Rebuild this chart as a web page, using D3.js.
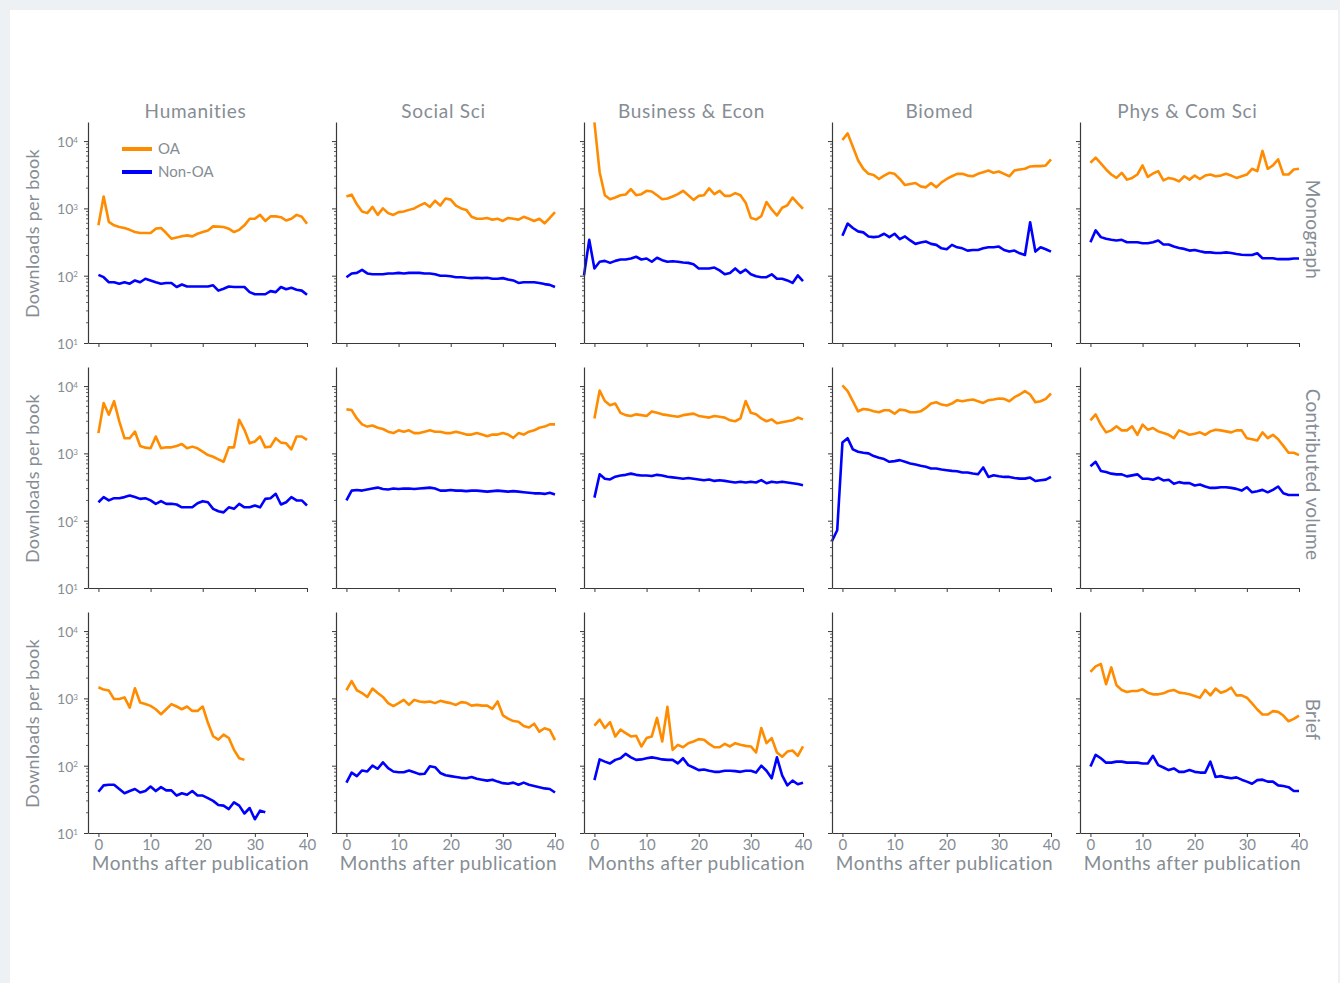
<!DOCTYPE html>
<html>
<head>
<meta charset="utf-8">
<script src="https://cdn.jsdelivr.net/npm/d3@7/dist/d3.min.js"></script>
<style>
  html, body { margin: 0; padding: 0; background: #edf1f4; }
  svg { display: block; }
</style>
</head>
<body>
<svg id="chart" width="1340" height="983"></svg>
<script>
// Column (discipline) and row (book type) labels
const disciplines = ["Humanities", "Social Sci", "Business & Econ", "Biomed", "Phys & Com Sci"];
const bookTypes = ["Monograph", "Contributed volume", "Brief"];
const seriesNames = ["OA", "Non-OA"];
const yTickValues = [10, 100, 1000, 10000];
const xTickValues = [0, 10, 20, 30, 40];

// Monthly downloads per book, month 0 onwards unless a start month is given
const humMonoOA = [560,1500,630,560,530,510,480,445,430,430,430,500,510,430,354,370,385,397,384,420,445,470,540,535,530,500,445,480,560,700,700,800,650,760,760,740,660,700,800,750,590];
const humMonoNon = [103,95,80,80,76,80,76,85,80,90,85,80,76,78,78,68,74,69,69,69,69,69,72,60,64,69,68,68,68,57,53,53,53,59,57,68,63,66,62,60,52];
const socMonoOA = [1500,1600,1150,900,850,1050,800,1000,850,800,880,900,950,1000,1100,1200,1050,1300,1100,1400,1350,1100,1000,950,750,700,700,720,680,700,650,720,700,680,750,700,650,700,600,720,880];
const socMonoNon = [95,108,110,122,108,105,105,105,108,108,110,108,110,110,110,108,108,105,100,100,98,95,95,93,92,93,92,93,90,90,92,88,85,78,80,80,80,78,75,73,68];
const bizMonoOA = [19000,3450,1570,1367,1450,1570,1607,1930,1570,1625,1825,1782,1570,1367,1400,1500,1625,1825,1570,1336,1535,1570,1980,1625,1825,1535,1535,1683,1570,1217,723,682,766,1245,966,784,1023,1110,1448,1190,988];
const bizMonoNon = [101,341,128,161,166,155,166,174,174,180,191,174,180,161,185,170,161,164,161,157,155,148,128,128,128,132,120,105,110,128,110,123,105,98,95,95,105,90,90,85,78,101,83];
const bioMonoOA = [10350,13000,8220,5180,3875,3260,3140,2735,3070,3375,3260,2735,2222,2300,2384,2122,2052,2384,2052,2438,2735,3000,3260,3260,3070,3000,3260,3450,3655,3375,3530,3260,3000,3655,3785,3875,4200,4245,4245,4345,5355];
const bioMonoNon = [392,594,511,455,440,383,374,383,420,374,420,349,383,334,297,311,322,297,287,255,247,287,264,255,236,241,241,255,264,264,271,241,228,236,215,203,622,228,264,247,228];
const phyMonoOA = [4765,5670,4655,3785,3185,2835,3375,2673,2835,3185,4345,2930,3295,3570,2612,2835,2735,2523,3000,2673,3070,2735,3070,3185,3000,3070,3260,3070,2835,3000,3185,3875,3570,7145,3875,4345,5355,3185,3185,3785,3875];
const phyMonoNon = [314,471,374,353,341,334,341,314,314,314,304,304,314,334,290,290,271,258,250,236,241,230,222,222,217,217,222,217,210,205,203,203,215,182,182,182,176,176,176,180,180];

const humCvOA = [2000,5600,3760,5960,2985,1680,1680,2110,1290,1216,1190,1780,1190,1230,1230,1290,1380,1190,1260,1190,1060,944,891,813,750,1230,1230,3160,2240,1410,1500,1780,1230,1260,1680,1445,1410,1150,1780,1780,1585];
const humCvNon = [188,224,200,216,216,224,237,224,211,216,200,178,195,178,178,174,158,158,158,182,195,188,150,138,133,158,150,178,158,158,168,158,211,216,251,174,188,224,200,200,168];
const socCvOA = [4500,4400,3300,2700,2500,2600,2400,2300,2100,2000,2200,2100,2200,2000,2000,2100,2200,2100,2100,2000,2000,2100,2000,1900,1900,2000,1900,1800,1900,1900,2000,1900,1700,2000,1900,2100,2200,2400,2500,2700,2700];
const socCvNon = [200,280,285,280,290,300,310,295,290,300,295,300,300,295,300,305,310,300,280,280,285,280,280,275,280,280,275,270,275,280,275,270,275,270,265,260,255,255,250,260,245];
const bizCvOA = [3300,8600,6000,5200,5500,4000,3700,3600,3800,3700,3600,4200,4000,3800,3700,3600,3500,3700,3800,3900,3600,3500,3400,3600,3500,3400,3100,3000,3300,6000,4000,3800,3300,3000,3200,2800,2900,3000,3100,3400,3200];
const bizCvNon = [220,490,420,410,450,470,480,500,480,470,470,460,480,470,450,440,430,420,430,420,410,400,410,390,400,390,380,370,380,370,380,370,400,360,380,370,380,370,360,350,335];
const bioCvOA = [10230,8414,5960,4217,4570,4467,4217,4074,4365,4365,3890,4467,4365,4074,4074,4217,4732,5495,5754,5309,5129,5495,6166,5957,6166,6310,5957,5623,6166,6310,6531,6457,5957,6839,7499,8414,7499,5754,5957,6457,7762];
const bioCvNon = [50,72,1445,1679,1148,1059,1023,1000,912,861,822,750,767,794,750,708,684,653,631,596,596,575,562,550,543,519,519,501,490,617,447,473,457,447,447,432,422,422,437,389,398,407,447];
const phyCvOA = [3105,3785,2673,2052,2198,2523,2198,2198,2523,1888,2673,2249,2384,2122,2004,1888,1683,2198,2052,1888,1956,2052,1888,2122,2249,2198,2122,2052,2198,2198,1683,1625,1552,2052,1683,1888,1625,1291,1023,1023,944];
const phyCvNon = [644,749,548,530,500,488,488,455,471,488,420,420,405,435,396,405,353,374,361,361,334,345,322,307,307,314,314,307,297,280,314,264,274,287,264,287,322,255,241,241,241];

const humBriefOA = [1464,1351,1305,977,977,1035,731,1416,870,822,774,690,581,690,822,757,690,757,652,652,757,434,274,244,290,258,172,129,122];
const humBriefNon = [41,51,52,52,45,39,42,45,40,42,49,42,48,43,43,36,39,37,42,36,36,33,30,26,25.5,22.7,28.6,25.5,19.5,23.5,16,21.5,20.3];
const socBriefOA = [1320,1800,1320,1200,1050,1400,1200,1050,850,770,850,950,800,950,900,880,900,850,920,880,850,800,880,860,780,800,780,780,700,900,560,500,460,450,390,370,420,320,360,340,240];
const socBriefNon = [56,79,70,85,82,100,90,112,92,82,80,80,85,80,75,76,98,95,78,72,70,68,66,65,68,64,62,60,62,58,55,54,56,52,56,52,50,48,46,45,40];
const bizBriefOA = [394,484,363,442,272,343,305,272,279,193,257,272,513,229,750,172,204,188,216,229,248,243,211,188,188,211,193,216,204,197,193,157,363,216,257,157,136,162,168,140,193];
const bizBriefNon = [61,124,115,108,122,129,150,133,122,124,129,133,129,124,122,122,108,129,102,94,86,88,84,81,81,84,84,83,81,84,84,79,100,84,65,133,72,51,60,53,56];
const phyBriefOA = [2483,2985,3236,1622,2884,1567,1334,1245,1288,1288,1365,1216,1148,1148,1189,1288,1334,1216,1189,1148,1084,1023,1334,1109,1396,1216,1288,1445,1109,1109,1023,841,684,575,575,646,631,556,457,495,556];
const phyBriefNon = [97,145,129,111,111,115,115,111,111,111,108,108,140,102,94,86,91,81,81,86,81,79,79,115,68,70,67,65,67,62,58,54,61,62,58,58,51,50,48,42,42];

// Grid of panels: [row][col] -> {oa, non, oaStart, nonStart}
const panels = [
  [
    {oa: humMonoOA, non: humMonoNon},
    {oa: socMonoOA, non: socMonoNon},
    {oa: bizMonoOA, non: bizMonoNon, nonStart: -2},
    {oa: bioMonoOA, non: bioMonoNon},
    {oa: phyMonoOA, non: phyMonoNon}
  ],
  [
    {oa: humCvOA, non: humCvNon},
    {oa: socCvOA, non: socCvNon},
    {oa: bizCvOA, non: bizCvNon},
    {oa: bioCvOA, non: bioCvNon, nonStart: -2},
    {oa: phyCvOA, non: phyCvNon}
  ],
  [
    {oa: humBriefOA, non: humBriefNon},
    {oa: socBriefOA, non: socBriefNon},
    {oa: bizBriefOA, non: bizBriefNon},
    {oa: [], non: []},
    {oa: phyBriefOA, non: phyBriefNon}
  ]
];

// ---- Layout and style ----
const W = 1340, H = 983;
const colLeft = [88, 336, 584, 832, 1080];
const rowTop = [122, 367, 612];
const pw = 219, ph = 221;
const oaColor = "#ff8c00", nonColor = "#0000ff";
const textColor = "#868d94";
const axisColor = "#3a3a3a";
const fontFam = "Lato, 'Open Sans', sans-serif";

const svg = d3.select("#chart");
svg.append("rect").attr("x", 0).attr("y", 0).attr("width", W).attr("height", H).attr("fill", "#edf1f4");
svg.append("rect").attr("x", 10).attr("y", 10).attr("width", 1328).attr("height", H - 10).attr("fill", "#ffffff");

const x = d3.scaleLinear().domain([-2, 40]).range([0, pw]);
const y = d3.scaleLog().domain([10, 19200]).range([ph, 0]);

const minorTicks = [];
[10, 100, 1000].forEach(d => { for (let k = 2; k <= 9; k++) minorTicks.push(d * k); });

const line = d3.line()
  .x(d => x(d.m))
  .y(d => y(d.v));

bookTypes.forEach((bt, r) => {
  disciplines.forEach((disc, c) => {
    const g = svg.append("g").attr("transform", `translate(${colLeft[c]},${rowTop[r]})`);
    const p = panels[r][c];

    // series lines
    const toPts = (arr, start) => arr.map((v, i) => ({m: (start || 0) + i, v}));
    [[p.oa, p.oaStart, oaColor], [p.non, p.nonStart, nonColor]].forEach(([arr, st, col]) => {
      if (!arr.length) return;
      g.append("path")
        .datum(toPts(arr, st))
        .attr("d", line)
        .attr("fill", "none")
        .attr("stroke", col)
        .attr("stroke-width", 2.6)
        .attr("stroke-linejoin", "round")
        .attr("stroke-linecap", "butt");
    });

    // y axis: major ticks, labels as 10 with a raised exponent
    const yAxis = d3.axisLeft(y).tickValues(yTickValues).tickSize(4).tickSizeOuter(0).tickPadding(6).tickFormat(() => "");
    const ya = g.append("g").call(yAxis);
    ya.select(".domain").attr("stroke", axisColor).attr("stroke-width", 1.2);
    ya.selectAll(".tick line").attr("stroke", axisColor).attr("stroke-width", 1);
    if (c === 0) {
      ya.selectAll(".tick text").each(function(d) {
        const t = d3.select(this);
        t.attr("fill", textColor).attr("font-family", fontFam).attr("font-size", 14).attr("dy", "0.4em");
        t.append("tspan").text("10");
        t.append("tspan").attr("dy", "-0.55em").attr("font-size", 8).text(String(Math.round(Math.log10(d))));
      });
    }
    // minor ticks
    g.append("g").selectAll("line").data(minorTicks).join("line")
      .attr("x1", -2).attr("x2", 0)
      .attr("y1", d => y(d)).attr("y2", d => y(d))
      .attr("stroke", axisColor).attr("stroke-width", 0.8);

    // x axis
    const xAxis = d3.axisBottom(x).tickValues(xTickValues).tickSize(4).tickSizeOuter(0).tickPadding(2);
    if (r !== 2) xAxis.tickFormat("");
    const xa = g.append("g").attr("transform", `translate(0,${ph})`).call(xAxis);
    xa.select(".domain").attr("stroke", axisColor).attr("stroke-width", 1.2);
    xa.selectAll(".tick line").attr("stroke", axisColor);
    xa.selectAll(".tick text").attr("fill", textColor).attr("font-family", fontFam).attr("font-size", 15);

    if (r === 2) {
      g.append("text")
        .attr("x", pw / 2 + 3).attr("y", ph + 37)
        .attr("text-anchor", "middle")
        .attr("fill", textColor).attr("font-family", fontFam).attr("font-size", 19)
        .attr("letter-spacing", 0.5)
        .text("Months after publication");
    }
    if (r === 0) {
      g.append("text")
        .attr("x", pw / 2 - 2).attr("y", -4)
        .attr("text-anchor", "middle")
        .attr("fill", textColor).attr("font-family", fontFam).attr("font-size", 19)
        .attr("letter-spacing", 0.7)
        .text(disc);
    }
    if (c === 0) {
      g.append("text")
        .attr("transform", `translate(-49,${ph / 2 + 1}) rotate(-90)`)
        .attr("text-anchor", "middle")
        .attr("fill", textColor).attr("font-family", fontFam).attr("font-size", 18)
        .attr("letter-spacing", 0.3)
        .text("Downloads per book");
    }
    if (c === 4) {
      g.append("text")
        .attr("transform", `translate(${pw + 7},${ph / 2 - 3}) rotate(90)`)
        .attr("text-anchor", "middle")
        .attr("fill", textColor).attr("font-family", fontFam).attr("font-size", 19)
        .attr("letter-spacing", 0.3)
        .text(bt);
    }
    // legend in first panel
    if (r === 0 && c === 0) {
      const lg = g.append("g").attr("transform", "translate(34,27)");
      [[oaColor, seriesNames[0]], [nonColor, seriesNames[1]]].forEach(([col, name], i) => {
        lg.append("line").attr("x1", 0).attr("x2", 30).attr("y1", i * 23).attr("y2", i * 23)
          .attr("stroke", col).attr("stroke-width", 4);
        lg.append("text").attr("x", 36).attr("y", i * 23 + 5)
          .attr("fill", textColor).attr("font-family", fontFam).attr("font-size", 15)
          .text(name);
      });
    }
  });
});
</script>
</body>
</html>
